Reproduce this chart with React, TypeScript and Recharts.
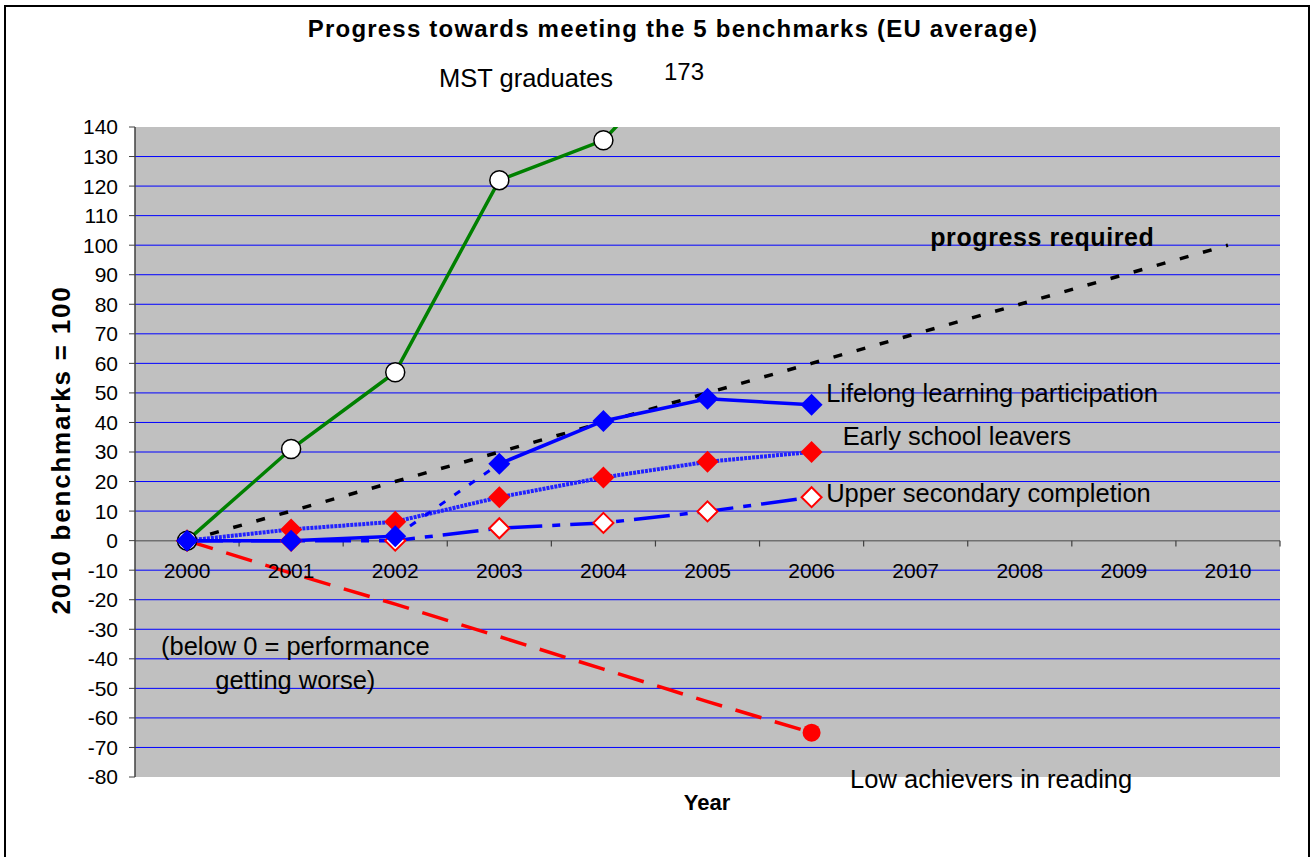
import React from 'react';
import { LineChart, Line, XAxis, YAxis, CartesianGrid, ReferenceLine, ReferenceDot } from 'recharts';

const years = [2000, 2001, 2002, 2003, 2004, 2005, 2006, 2007, 2008, 2009, 2010];
const yTicks = [-80, -70, -60, -50, -40, -30, -20, -10, 0, 10, 20, 30, 40, 50, 60, 70, 80, 90, 100, 110, 120, 130, 140];
const gridValues = [-70, -60, -50, -40, -30, -20, -10, 10, 20, 30, 40, 50, 60, 70, 80, 90, 100, 110, 120, 130];
const progressRequired = [0, 10, 20, 30, 40, 50, 60, 70, 80, 90, 100];
const mstGraduates = [0, 31, 57, 122, 135.5, 173];
const lifelongLearning = [0, 0, 1.5, 26, 40.5, 48, 46];
const earlySchoolLeavers = [0, 3.8, 6.4, 14.7, 21.4, 26.7, 30];
const upperSecondary = [0, 0, 0, 4.2, 6, 9.9, 14.7];
const lowAchievers = [0, -11, -21.5, -32.5, -43.5, -54.5, -65];

const val = (arr: number[], i: number) => (i < arr.length ? arr[i] : null);

const rows = years.map((year, i) => ({
  year,
  progress: val(progressRequired, i),
  mst: val(mstGraduates, i),
  lifelongA: i <= 2 ? val(lifelongLearning, i) : null,
  lifelongBreak: i === 2 || i === 3 ? val(lifelongLearning, i) : null,
  lifelongB: i >= 3 ? val(lifelongLearning, i) : null,
  early: val(earlySchoolLeavers, i),
  upper: val(upperSecondary, i),
  low: val(lowAchievers, i),
}));

const FONT = 'Liberation Sans, Arial, sans-serif';

const diamond = (fill: string, stroke: string, sw: number, h: number) => (props: any) => {
  const { cx, cy, index, value } = props;
  if (cx == null || cy == null || value == null) return <g key={`d${index}`} />;
  return (
    <path
      key={`d${index}`}
      d={`M${cx},${cy - h}L${cx + h},${cy}L${cx},${cy + h}L${cx - h},${cy}Z`}
      fill={fill}
      stroke={stroke}
      strokeWidth={sw}
    />
  );
};

const lastCircle = (props: any) => {
  const { cx, cy, index } = props;
  if (index !== lowAchievers.length - 1 || cx == null) return <g key={`c${index}`} />;
  return <circle key={`c${index}`} cx={cx} cy={cy} r={9} fill="#ff0000" />;
};

const tickBoundaries = years.map((y) => y + 0.5);

const noteStyle = { fontSize: 25.5, fill: '#000', fontFamily: FONT };

const note = (x: number, y: number, text: string, extra: any = {}) => (
  <ReferenceDot
    key={text}
    x={x}
    y={y}
    r={0}
    ifOverflow="visible"
    label={{ value: text, position: 'right', offset: 0, ...noteStyle, ...extra }}
  />
);

export default function App() {
  return (
    <div style={{ position: 'absolute', left: 0, top: 0, width: 1313, height: 857, overflow: 'hidden', background: '#fff' }}>
      <div
        style={{
          position: 'absolute',
          left: 4,
          top: 4.5,
          width: 1302,
          height: 900,
          border: '2.7px solid #000',
        }}
      />
      <div style={{ position: 'absolute', left: 0, top: 0 }}>
        <LineChart width={1313} height={857} data={rows} margin={{ top: 127, right: 33, bottom: 80, left: 75 }}>
          <CartesianGrid
            horizontal
            vertical={false}
            horizontalValues={gridValues}
            stroke="#0000ff"
            strokeWidth={1}
            fill="#c0c0c0"
            fillOpacity={1}
          />
          <XAxis type="number" dataKey="year" domain={[1999.5, 2010.5]} hide />
          <YAxis
            type="number"
            domain={[-80, 140]}
            ticks={yTicks}
            interval={0}
            allowDataOverflow
            width={60}
            tickSize={6}
            tickMargin={11}
            axisLine={{ stroke: '#404040', strokeWidth: 1.5 }}
            tickLine={{ stroke: '#404040' }}
            tick={{ fontSize: 21, fill: '#000', fontFamily: FONT }}
          />
          <ReferenceLine y={0} stroke="#707070" strokeWidth={1.5} />
          {tickBoundaries.map((b) => (
            <ReferenceLine
              key={`t${b}`}
              segment={[
                { x: b, y: 0 },
                { x: b, y: -2 },
              ]}
              stroke="#404040"
              strokeWidth={1.2}
            />
          ))}
          {years.map((y) => (
            <ReferenceDot
              key={`yl${y}`}
              x={y}
              y={-10}
              r={0}
              label={{ value: String(y), position: 'center', fontSize: 21, fill: '#000', fontFamily: FONT }}
            />
          ))}
          <Line dataKey="progress" stroke="#000" strokeWidth={3.5} strokeDasharray="9 15" dot={false} isAnimationActive={false} />
          <Line dataKey="low" stroke="#ff0000" strokeWidth={3.5} strokeDasharray="27 14" dot={lastCircle} isAnimationActive={false} />
          <Line
            dataKey="upper"
            stroke="#0000ff"
            strokeWidth={3.5}
            strokeDasharray="36 10 8 10"
            dot={diamond('#ffffff', '#ff0000', 2, 10)}
            isAnimationActive={false}
          />
          <Line
            dataKey="early"
            stroke="#2222ff"
            strokeWidth={4}
            strokeDasharray="3 1"
            dot={diamond('#ff0000', '#ff0000', 0, 11)}
            isAnimationActive={false}
          />
          <Line
            dataKey="mst"
            stroke="#008000"
            strokeWidth={3.5}
            dot={{ r: 9.5, fill: '#ffffff', stroke: '#000', strokeWidth: 1.5 }}
            isAnimationActive={false}
          />
          <Line dataKey="lifelongBreak" stroke="#0000ff" strokeWidth={3} strokeDasharray="7 11" dot={false} isAnimationActive={false} />
          <Line dataKey="lifelongA" stroke="#0000ff" strokeWidth={3.5} dot={diamond('#0000ff', '#0000ff', 0, 11)} isAnimationActive={false} />
          <Line dataKey="lifelongB" stroke="#0000ff" strokeWidth={3.5} dot={diamond('#0000ff', '#0000ff', 0, 11)} isAnimationActive={false} />
          {note(2006.14, 50, 'Lifelong learning participation')}
          {note(2006.3, 35.4, 'Early school leavers')}
          {note(2006.14, 16.1, 'Upper secondary completion')}
          {note(2007.14, 102.7, 'progress required', { fontWeight: 'bold', fontSize: 25, letterSpacing: 0.6 })}
          {note(2006.37, -80.5, 'Low achievers in reading')}
          <ReferenceDot x={2001.04} y={-35.6} r={0} ifOverflow="visible" label={{ value: '(below 0 = performance', position: 'center', ...noteStyle }} />
          <ReferenceDot x={2001.04} y={-47.1} r={0} ifOverflow="visible" label={{ value: 'getting worse)', position: 'center', ...noteStyle }} />
          <text x={673} y={37} textAnchor="middle" fontFamily={FONT} fontWeight="bold" fontSize={24} letterSpacing={1.2} fill="#000">
            Progress towards meeting the 5 benchmarks (EU average)
          </text>
          <text x={526} y={87} textAnchor="middle" fontFamily={FONT} fontSize={25.5} fill="#000">
            MST graduates
          </text>
          <text x={684} y={80} textAnchor="middle" fontFamily={FONT} fontSize={24} fill="#000">
            173
          </text>
          <text x={707} y={810} textAnchor="middle" fontFamily={FONT} fontWeight="bold" fontSize={22} fill="#000">
            Year
          </text>
          <text
            transform="translate(70,450) rotate(-90)"
            textAnchor="middle"
            fontFamily={FONT}
            fontWeight="bold"
            fontSize={26}
            letterSpacing={1.8}
            fill="#000"
          >
            2010 benchmarks = 100
          </text>
        </LineChart>
      </div>
    </div>
  );
}
